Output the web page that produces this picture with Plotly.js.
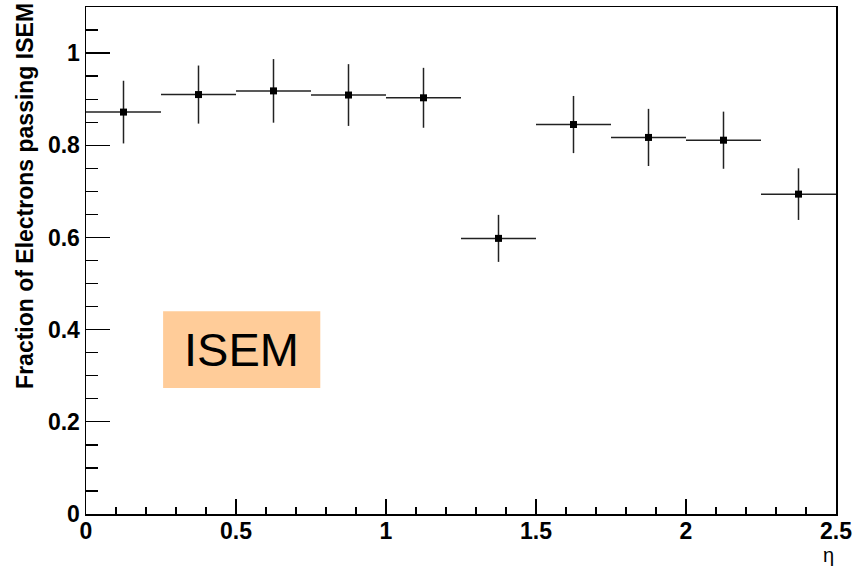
<!DOCTYPE html>
<html>
<head>
<meta charset="utf-8">
<script src="https://cdn.plot.ly/plotly-3.0.1.min.js"></script>
<style>html,body{margin:0;padding:0;background:#fff;}</style>
</head>
<body>
<div id="chart" style="width:867px;height:566px;"></div>
<script>
// Data
var etaCenters = [0.125, 0.375, 0.625, 0.875, 1.125, 1.375, 1.625, 1.875, 2.125, 2.375];
var etaHalfWidth = [0.125, 0.125, 0.125, 0.125, 0.125, 0.125, 0.125, 0.125, 0.125, 0.125];
var fraction = [0.872, 0.910, 0.918, 0.909, 0.903, 0.598, 0.845, 0.817, 0.811, 0.694];
var fracErr = [0.068, 0.063, 0.069, 0.067, 0.065, 0.051, 0.062, 0.062, 0.062, 0.056];
var yTitle = "Fraction of Electrons passing ISEM";
var xTitle = "\u03b7";
var labelText = "ISEM";

var fontFam = "Liberation Sans, Arial, Helvetica, sans-serif";

var trace = {
  x: etaCenters,
  y: fraction,
  type: "scatter",
  mode: "markers",
  marker: {symbol: "square", size: 7, color: "#000"},
  error_x: {type: "data", array: etaHalfWidth, visible: true, width: 0, thickness: 1.5, color: "#222"},
  error_y: {type: "data", array: fracErr, visible: true, width: 0, thickness: 1.5, color: "#222"},
  hoverinfo: "x+y"
};

var layout = {
  width: 867,
  height: 566,
  margin: {l: 86, r: 31, t: 7, b: 52, pad: 0},
  paper_bgcolor: "#fff",
  plot_bgcolor: "#fff",
  showlegend: false,
  font: {family: fontFam, color: "#000"},
  xaxis: {
    range: [0, 2.5],
    dtick: 0.5,
    tick0: 0,
    ticks: "inside",
    ticklen: 15,
    tickwidth: 1.3,
    tickcolor: "#000",
    ticklabelstandoff: -4,
    minor: {dtick: 0.1, ticks: "inside", ticklen: 7, tickwidth: 1.3, tickcolor: "#000", showgrid: false},
    showline: true,
    linecolor: "#000",
    linewidth: 1.5,
    mirror: true,
    showgrid: false,
    zeroline: false,
    tickfont: {size: 23, weight: "bold", family: fontFam, color: "#000"},
    fixedrange: true
  },
  yaxis: {
    range: [0, 1.1],
    dtick: 0.2,
    tick0: 0,
    ticks: "inside",
    ticklen: 24,
    tickwidth: 1.3,
    tickcolor: "#000",
    minor: {dtick: 0.05, ticks: "inside", ticklen: 12, tickwidth: 1.3, tickcolor: "#000", showgrid: false},
    showline: true,
    linecolor: "#000",
    linewidth: 1.5,
    mirror: true,
    showgrid: false,
    zeroline: false,
    tickfont: {size: 23, weight: "bold", family: fontFam, color: "#000"},
    fixedrange: true
  },
  shapes: [{
    type: "rect",
    xref: "x", yref: "y",
    x0: 0.257, x1: 0.781, y0: 0.2735, y1: 0.44,
    fillcolor: "#FFCC99",
    line: {width: 0},
    layer: "above"
  }],
  annotations: [
    {
      text: labelText,
      xref: "x", yref: "y",
      x: 0.519, y: 0.357,
      xanchor: "center", yanchor: "middle",
      showarrow: false,
      font: {size: 47, family: fontFam, color: "#000"}
    },
    {
      text: yTitle,
      xref: "paper", yref: "paper",
      x: 0, y: 1.012,
      xshift: -61,
      xanchor: "center", yanchor: "top",
      textangle: -90,
      showarrow: false,
      font: {size: 23, weight: "bold", family: fontFam, color: "#000"}
    },
    {
      text: xTitle,
      xref: "paper", yref: "paper",
      x: 1, y: -0.08,
      xanchor: "right", yanchor: "middle",
      showarrow: false,
      font: {size: 20, family: fontFam, color: "#000"}
    }
  ]
};

Plotly.newPlot("chart", [trace], layout, {displayModeBar: false, staticPlot: true});
</script>
</body>
</html>
